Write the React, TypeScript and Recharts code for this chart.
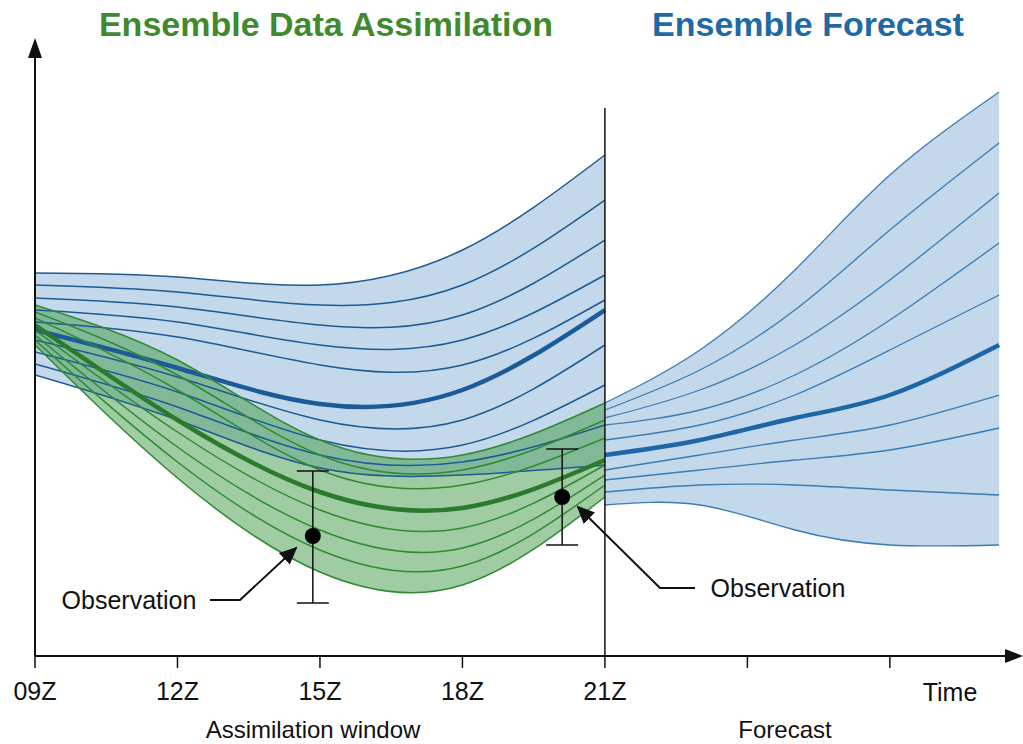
import React from "react";
import {
  ComposedChart,
  Area,
  Line,
  Scatter,
  ErrorBar,
  XAxis,
  YAxis,
  ReferenceLine,
} from "recharts";

// vertical axis is a generic "state" value, drawn reversed (larger = lower on page)
const windowTimes = [9, 12, 15, 18, 21];
const forecastTimes = [21, 23, 25, 27, 29.3];
const axisTicks = [9, 12, 15, 18, 21, 24, 27];
const tickLabels = ["09Z", "12Z", "15Z", "18Z", "21Z", "", ""];

const priorMembers = [
  [273, 277, 285, 250, 155],
  [285, 292, 305, 285, 200],
  [298, 307, 325, 315, 240],
  [310, 322, 345, 340, 275],
  [322, 337, 365, 365, 300],
  [340, 377, 420, 420, 345],
  [352, 392, 440, 445, 385],
  [364, 407, 455, 462, 425],
  [375, 420, 468, 475, 465],
];
const priorMean = [330, 368, 404, 390, 310];

const analysisMembers = [
  [305, 360, 440, 455, 403],
  [312, 375, 455, 470, 420],
  [318, 390, 470, 485, 438],
  [330, 432, 510, 528, 465],
  [335, 447, 530, 548, 475],
  [340, 462, 550, 566, 485],
  [345, 478, 572, 585, 497],
];
const analysisMean = [325, 420, 492, 508, 460];

const forecastMembers = [
  [403, 350, 270, 175, 92],
  [410, 370, 310, 230, 143],
  [418, 390, 345, 280, 193],
  [425, 410, 375, 320, 243],
  [440, 425, 395, 350, 295],
  [470, 455, 440, 425, 395],
  [480, 470, 460, 450, 428],
  [492, 485, 485, 490, 495],
  [505, 505, 530, 545, 545],
];
const forecastMean = [455, 440, 418, 395, 345];

const obsTimes = [14.85, 20.1];
const obsValues = [536, 497];
const obsErrors = [[65, 67], [48, 48]];

const allTimes = [9, 12, 15, 18, 21, 23, 25, 27, 29.3];
const rows = allTimes.map((t) => {
  const row: any = { t };
  const wi = windowTimes.indexOf(t);
  if (wi >= 0) {
    priorMembers.forEach((m, k) => (row["p" + k] = m[wi]));
    row.pMean = priorMean[wi];
    row.pRange = [priorMembers[0][wi], priorMembers[priorMembers.length - 1][wi]];
    analysisMembers.forEach((m, k) => (row["a" + k] = m[wi]));
    row.aMean = analysisMean[wi];
    row.aRange = [analysisMembers[0][wi], analysisMembers[analysisMembers.length - 1][wi]];
  }
  const fi = forecastTimes.indexOf(t);
  if (fi >= 0) {
    forecastMembers.forEach((m, k) => (row["f" + k] = m[fi]));
    row.fMean = forecastMean[fi];
    row.fRange = [forecastMembers[0][fi], forecastMembers[forecastMembers.length - 1][fi]];
  }
  return row;
});
const obsRows = obsTimes.map((t, i) => ({ t, v: obsValues[i], err: obsErrors[i] }));

const FONT = "'Liberation Sans', Arial, sans-serif";
const CURVE = "natural";

const Tick = (props: any) => {
  const { x, index } = props;
  return (
    <text x={x} y={700} textAnchor="middle" fontSize={25} fontFamily={FONT} fill="#111">
      {tickLabels[index]}
    </text>
  );
};

export default function App() {
  return (
    <div style={{ position: "absolute", left: 0, top: 0, width: 1023, height: 744, background: "#fff" }}>
      <ComposedChart
        width={1023}
        height={744}
        data={rows}
        margin={{ top: 50, right: 3, left: 0, bottom: 0 }}
      >
        <XAxis
          type="number"
          dataKey="t"
          domain={[9, 29.74]}
          ticks={axisTicks}
          height={88}
          tickSize={12}
          tick={<Tick />}
          axisLine={{ stroke: "#111", strokeWidth: 2 }}
          tickLine={{ stroke: "#111", strokeWidth: 1.5 }}
          allowDataOverflow
        />
        <YAxis
          type="number"
          domain={[50, 656]}
          reversed
          width={35}
          tick={false}
          tickLine={false}
          axisLine={{ stroke: "#111", strokeWidth: 2 }}
          allowDataOverflow
        />
        <Area dataKey="pRange" type={CURVE} fill="#c3d8ea" fillOpacity={1} stroke="none" isAnimationActive={false} />
        <Area dataKey="fRange" type={CURVE} fill="#c3d8ea" fillOpacity={1} stroke="none" isAnimationActive={false} />
        {priorMembers.map((_, k) => (
          <Line key={"p" + k} dataKey={"p" + k} type={CURVE} stroke="#1d5a92" strokeWidth={1.5} dot={false} isAnimationActive={false} />
        ))}
        <Line dataKey="pMean" type={CURVE} stroke="#1b5c98" strokeWidth={4.5} dot={false} isAnimationActive={false} />
        {forecastMembers.map((_, k) => (
          <Line key={"f" + k} dataKey={"f" + k} type={CURVE} stroke="#3d7bb3" strokeWidth={1.3} dot={false} isAnimationActive={false} />
        ))}
        <Line dataKey="fMean" type={CURVE} stroke="#1f66a6" strokeWidth={4.5} dot={false} isAnimationActive={false} />
        <Area dataKey="aRange" type={CURVE} fill="#3f9a45" fillOpacity={0.5} stroke="none" isAnimationActive={false} />
        {analysisMembers.map((_, k) => (
          <Line key={"a" + k} dataKey={"a" + k} type={CURVE} stroke="#2f8a33" strokeWidth={1.5} dot={false} isAnimationActive={false} />
        ))}
        <Line dataKey="aMean" type={CURVE} stroke="#2a7b2e" strokeWidth={4.5} dot={false} isAnimationActive={false} />
        <ReferenceLine segment={[{ x: 21, y: 108 }, { x: 21, y: 656 }]} stroke="#111" strokeWidth={1.5} />
        <Scatter data={obsRows} dataKey="v" fill="#000" isAnimationActive={false}
          shape={(p: any) => <circle cx={p.cx} cy={p.cy} r={8} fill="#000" />}>
          <ErrorBar dataKey="err" direction="y" width={16} stroke="#111" strokeWidth={1.5} />
        </Scatter>
      </ComposedChart>
      <svg width={1023} height={744} style={{ position: "absolute", left: 0, top: 0, pointerEvents: "none" }}>
        <defs>
          <marker id="ah" markerWidth="10" markerHeight="10" refX="8" refY="5" orient="auto">
            <path d="M0,1 L9,5 L0,9 Z" fill="#111" />
          </marker>
        </defs>
        <polygon points="35,38 28,58 42,58" fill="#111" />
        <polygon points="1023,656 1005,649 1005,663" fill="#111" />
        <polyline points="210,600 240,600 296,548" fill="none" stroke="#111" strokeWidth={2} markerEnd="url(#ah)" />
        <polyline points="695,588 660,588 578,507" fill="none" stroke="#111" strokeWidth={2} markerEnd="url(#ah)" />
        <text x={129} y={609} textAnchor="middle" fontSize={25} fontFamily={FONT} fill="#111">Observation</text>
        <text x={778} y={597} textAnchor="middle" fontSize={25} fontFamily={FONT} fill="#111">Observation</text>
        <text x={950} y={701} textAnchor="middle" fontSize={25} fontFamily={FONT} fill="#111">Time</text>
        <text x={313} y={738} textAnchor="middle" fontSize={24} fontFamily={FONT} fill="#111">Assimilation window</text>
        <text x={785} y={738} textAnchor="middle" fontSize={24} fontFamily={FONT} fill="#111">Forecast</text>
        <text x={326} y={36} textAnchor="middle" fontSize={34} fontWeight="bold" fontFamily={FONT} fill="#3f8a2e">Ensemble Data Assimilation</text>
        <text x={808} y={36} textAnchor="middle" fontSize={34} fontWeight="bold" fontFamily={FONT} fill="#1f6aa5">Ensemble Forecast</text>
      </svg>
    </div>
  );
}
